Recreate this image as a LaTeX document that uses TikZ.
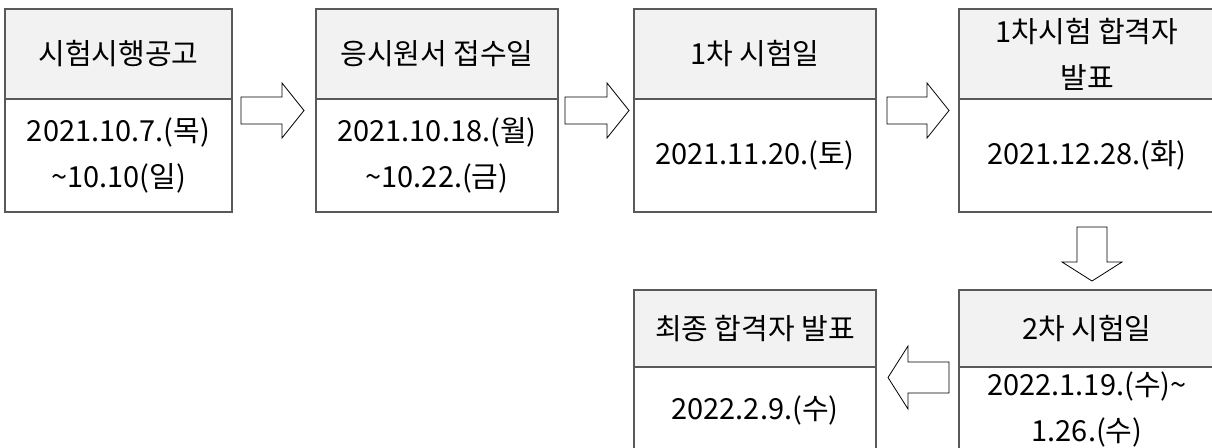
\documentclass[tikz,border=0pt]{standalone}
\usepackage{fontspec}
\setmainfont{Noto Sans CJK KR}
\usetikzlibrary{positioning}

\definecolor{hdrgray}{HTML}{F2F2F2}
\definecolor{linegray}{HTML}{595959}

\tikzset{
  cell/.style={draw=linegray, line width=1.2pt, rectangle, inner sep=0pt, outer sep=0pt,
    align=center, font=\fontsize{29}{46}\selectfont},
  headcell/.style={cell, fill=hdrgray, anchor=north west, minimum height=#1},
  bodycell/.style={cell, fill=white, minimum height=#1},
  blockarrow/.style={draw=black, line width=0.8pt, fill=white, line join=miter},
}

\begin{document}
\begin{tikzpicture}[x=1pt, y=-1pt]
        \useasboundingbox (0,0) rectangle (1212,447);

        % top row
        \node[headcell=90, minimum width=227] (head1) at (5,9) {시험시행공고};
        \node[bodycell=113, minimum width=227, below=0pt of head1] (body1) {2021.10.7.(목)\\\textasciitilde10.10(일)};

        \node[headcell=90, minimum width=242] (head2) at (316,9) {응시원서 접수일};
        \node[bodycell=113, minimum width=242, below=0pt of head2] (body2) {2021.10.18.(월)\\\textasciitilde10.22.(금)};

        \node[headcell=90, minimum width=242] (head3) at (634,9) {1차 시험일};
        \node[bodycell=113, minimum width=242, below=0pt of head3] (body3) {2021.11.20.(토)};

        \node[headcell=90, minimum width=256] (head4) at (959,9) {1차시험 합격자\\발표};
        \node[bodycell=113, minimum width=256, below=0pt of head4] (body4) {2021.12.28.(화)};

        % bottom row
        \node[headcell=77, minimum width=242] (head5) at (634,290) {최종 합격자 발표};
        \node[bodycell=86, minimum width=242, below=0pt of head5] (body5) {2022.2.9.(수)};

        \node[headcell=77, minimum width=256] (head6) at (959,290) {2차 시험일};
        \node[bodycell=84, minimum width=256, below=0pt of head6] (body6) {2022.1.19.(수)\textasciitilde\\1.26.(수)};

        % block arrows to the right
        \foreach \xa/\xb in {241/304, 565/629, 887/949} {
            \draw[blockarrow] (\xa,97) -- (\xb-22,97) -- (\xb-22,83) -- (\xb,110.5)
                -- (\xb-22,138) -- (\xb-22,124) -- (\xa,124) -- cycle;
        }

        % down and left
        \draw[blockarrow] (1077,227) -- (1107,227) -- (1107,262) -- (1122,262) -- (1092,281)
            -- (1062,262) -- (1077,262) -- cycle;
        \draw[blockarrow] (949,362) -- (908,362) -- (908,346) -- (888,377.5) -- (908,409)
            -- (908,393) -- (949,393) -- cycle;

    \end{tikzpicture}
\end{document}
